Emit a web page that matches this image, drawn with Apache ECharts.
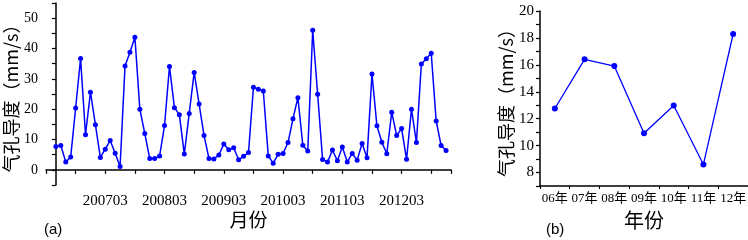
<!DOCTYPE html>
<html>
<head>
<meta charset="utf-8">
<script src="https://cdn.jsdelivr.net/npm/echarts@6/dist/echarts.min.js"></script>
<style>html,body{margin:0;padding:0;background:#fff}#c{width:748px;height:240px}</style>
</head>
<body>
<div id="c"></div>
<script>
// Monthly stomatal conductance, 2006-05 .. 2012-12
const startYear = 2006, startMonth = 5;
const monthlyValues = [
  7.7, 8.0, 2.6, 4.2, 20.4, 36.7, 11.6, 25.6, 14.9, 4.1,
  6.8, 9.7, 5.5, 1.1, 34.2, 38.8, 43.7, 20.0, 12.0, 3.7,
  3.7, 4.6, 14.6, 34.1, 20.5, 18.2, 5.2, 18.6, 32.1, 21.7,
  11.3, 3.7, 3.6, 4.9, 8.5, 6.6, 7.3, 3.3, 4.5, 5.7,
  27.2, 26.6, 26.0, 4.6, 2.2, 5.1, 5.4, 9.0, 16.8, 23.8,
  8.1, 6.2, 46.0, 24.9, 3.4, 2.6, 6.5, 3.0, 7.5, 2.6,
  5.4, 3.2, 8.7, 4.0, 31.6, 14.5, 9.1, 5.3, 19.0, 11.3,
  13.6, 3.5, 20.0, 9.0, 34.9, 36.6, 38.4, 16.1, 8.0, 6.4
];
const monthTickLabels = ['200703', '200803', '200903', '201003', '201103', '201203'];
const yearCategories = ['06年', '07年', '08年', '09年', '10年', '11年', '12年'];
const yearValues = [12.76, 16.41, 15.91, 10.92, 12.98, 8.6, 18.29];

const yName = '气孔导度（mm/s）';
const serif = "'Liberation Serif', 'Noto Sans CJK SC', serif";
const cjk = "'Noto Sans CJK SC', 'Liberation Serif', sans-serif";
const blue = '#0000ff';

function monthIndex(label) {
  const y = parseInt(label.slice(0, 4), 10), m = parseInt(label.slice(4), 10);
  return (y - startYear) * 12 + (m - startMonth);
}
const labelMap = {};
monthTickLabels.forEach(l => { labelMap[monthIndex(l)] = l; });

const axisLineStyle = { color: '#000', width: 1.5 };

const chart = echarts.init(document.getElementById('c'));
chart.setOption({
  animation: false,
  backgroundColor: '#fff',
  grid: [
    { left: 46, top: 3, width: 405, height: 182, containLabel: false, outerBoundsMode: 'none' },
    { left: 540, top: 11, width: 208, height: 175, containLabel: false, outerBoundsMode: 'none' }
  ],
  xAxis: [
    {
      gridIndex: 0, type: 'value', min: -2, max: 80, interval: 6,
      splitLine: { show: false },
      axisLine: { lineStyle: axisLineStyle },
      axisTick: { show: true, length: 4, inside: false, lineStyle: { color: '#000', width: 1.2 } },
      axisLabel: {
        margin: 9, color: '#000', fontSize: 15, fontFamily: serif,
        showMinLabel: true, showMaxLabel: true,
        formatter: v => labelMap[Math.round(v)] || ''
      },
      name: '月份', nameLocation: 'middle', nameGap: 25, nameMoveOverlap: false,
      nameTextStyle: { fontSize: 19, color: '#000', fontFamily: cjk }
    },
    {
      gridIndex: 1, type: 'category', data: yearCategories, boundaryGap: true,
      axisLine: { lineStyle: axisLineStyle },
      axisTick: { show: true, length: 3, alignWithLabel: false, lineStyle: { color: '#000', width: 1 } },
      axisLabel: { margin: 6, color: '#000', fontSize: 13, fontFamily: serif, interval: 0 },
      name: '年份', nameLocation: 'middle', nameGap: 24, nameMoveOverlap: false,
      nameTextStyle: { fontSize: 20, color: '#000', fontFamily: cjk }
    }
  ],
  yAxis: [
    {
      gridIndex: 0, type: 'value', min: -5, max: 55, interval: 5,
      splitLine: { show: false },
      axisLine: { show: true, lineStyle: axisLineStyle },
      axisTick: { show: true, length: 4, lineStyle: { color: '#000', width: 1.2 } },
      axisLabel: {
        margin: 8, color: '#000', fontSize: 14, fontFamily: serif,
        formatter: v => (v % 10 === 0 && v >= 0 && v <= 50) ? String(v) : ''
      },
      name: yName, nameLocation: 'middle', nameGap: 26, nameRotate: 90, nameMoveOverlap: false,
      nameTextStyle: { fontSize: 18, color: '#000', fontFamily: cjk }
    },
    {
      gridIndex: 1, type: 'value', min: 7, max: 20, interval: 1,
      splitLine: { show: false },
      axisLine: { show: true, lineStyle: axisLineStyle },
      axisTick: { show: true, length: 4, lineStyle: { color: '#000', width: 1.2 } },
      axisLabel: {
        margin: 6, color: '#000', fontSize: 15, fontFamily: serif,
        formatter: v => (v % 2 === 0) ? String(v) : ''
      },
      name: yName, nameLocation: 'middle', nameGap: 25, nameRotate: 90, nameMoveOverlap: false,
      nameTextStyle: { fontSize: 18, color: '#000', fontFamily: cjk }
    }
  ],
  series: [
    {
      type: 'line', xAxisIndex: 0, yAxisIndex: 0,
      data: monthlyValues.map((v, i) => [i, v]),
      symbol: 'circle', symbolSize: 5,
      lineStyle: { color: blue, width: 1.5 },
      itemStyle: { color: blue }
    },
    {
      type: 'line', xAxisIndex: 1, yAxisIndex: 1,
      data: yearValues,
      symbol: 'circle', symbolSize: 6,
      lineStyle: { color: blue, width: 1.3 },
      itemStyle: { color: blue }
    }
  ],
  graphic: [
    { type: 'text', left: 44, top: 222, style: { text: '(a)', fontSize: 15, fontFamily: "'Liberation Sans', sans-serif", fill: '#000' } },
    { type: 'text', left: 546, top: 222, style: { text: '(b)', fontSize: 15, fontFamily: "'Liberation Sans', sans-serif", fill: '#000' } }
  ]
});
</script>
</body>
</html>
